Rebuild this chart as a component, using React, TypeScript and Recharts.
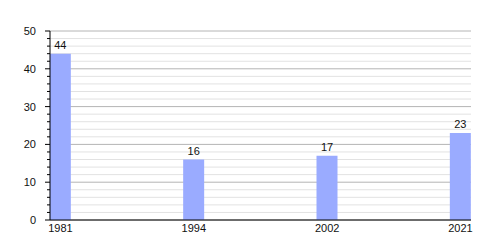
import React from 'react';
import { BarChart, Bar, XAxis, YAxis, CartesianGrid, LabelList } from 'recharts';

const years = ['1981', '1994', '2002', '2021'];
const counts = [44, 16, 17, 23];
const yTicks = [0, 2, 4, 6, 8, 10, 12, 14, 16, 18, 20, 22, 24, 26, 28, 30, 32, 34, 36, 38, 40, 42, 44, 46, 48, 50];

const data = years.map((year, i) => ({ idx: i, year, count: counts[i] }));

const YTick = (props: any) => {
  const { x, y, payload } = props;
  const major = payload.value % 10 === 0;
  return (
    <g>
      <line x1={x - (major ? 5 : 3)} x2={x} y1={y} y2={y} stroke="#000" />
      {major && (
        <text x={x - 14} y={y} dy={4} textAnchor="end" fontSize={11} fill="#111">
          {payload.value}
        </text>
      )}
    </g>
  );
};

const gridLine = (props: any) => {
  const { x1, x2, y1, y2, index } = props;
  const major = yTicks[index] % 10 === 0;
  return (
    <line key={`g-${index}`} x1={x1} x2={x2} y1={y1} y2={y2} stroke={major ? '#b4b4b4' : '#e2e2e2'} />
  );
};

export default function App() {
  return (
    <div style={{ position: 'absolute', left: 0, top: 0, fontFamily: '"Liberation Sans", Arial, sans-serif' }}>
      <BarChart width={500} height={250} data={data} margin={{ top: 31, right: 29, left: 0, bottom: 10 }}>
        <CartesianGrid vertical={false} horizontal={gridLine} />
        <XAxis
          type="number"
          dataKey="idx"
          domain={[0, 3]}
          ticks={[0, 1, 2, 3]}
          tickFormatter={(v: number) => years[v]}
          padding={{ left: 10.5, right: 10.5 }}
          tickLine={false}
          tickSize={0}
          tickMargin={4}
          height={20}
          axisLine={{ stroke: '#000' }}
          tick={{ fill: '#111', fontSize: 11 }}
        />
        <YAxis
          domain={[0, 50]}
          ticks={yTicks}
          interval={0}
          width={50}
          tickLine={false}
          tickSize={0}
          tickMargin={0}
          axisLine={{ stroke: '#000' }}
          tick={<YTick />}
        />
        <Bar dataKey="count" barSize={21} fill="#9aabff" isAnimationActive={false}>
          <LabelList dataKey="count" position="top" offset={5} fill="#111" fontSize={11} />
        </Bar>
      </BarChart>
    </div>
  );
}
